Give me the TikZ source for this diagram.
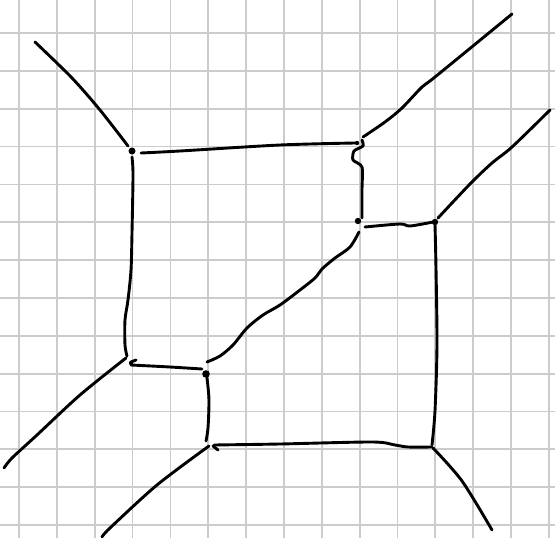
\documentclass[tikz,border=0pt]{standalone}
\begin{document}
\begin{tikzpicture}[x=1pt,y=-1pt,
  gridline/.style={draw=black!20,line width=1.8pt},
  ink/.style={draw=black,line width=2.9pt,line cap=round,line join=round},
  inkdot/.style={fill=black}]
\useasboundingbox (0,0) rectangle (555,538);
\fill[white] (0,0) rectangle (555,538);
% grid
\foreach \k in {0,...,14} {
  \draw[gridline] ({19+37.85*\k},0) -- ({19+37.85*\k},538);
}
\foreach \k in {0,...,13} {
  \draw[gridline] (0,{33+37.85*\k}) -- (555,{33+37.85*\k});
}
% junctions
\coordinate (A) at (132,151);
\coordinate (B) at (357,143);
\coordinate (C) at (358,221);
\coordinate (D) at (435,222);
\coordinate (E) at (127,357);
\coordinate (F) at (206,374);
\coordinate (G) at (208,447);
\coordinate (H) at (432,447);
% tails
\draw[ink] plot[smooth,tension=0.5] coordinates {(35,42) (72,78) (100,110) (128,146)};
\draw[ink] plot[smooth,tension=0.5] coordinates {(363,137) (385,122) (402,108) (422,87) (435,77) (512,14)};
\draw[ink] plot[smooth,tension=0.5] coordinates {(438,218) (470,184) (492,163) (512,147) (550,110)};
\draw[ink] plot[smooth,tension=0.5] coordinates {(126,358) (80,395) (37,435) (12,458) (4,468)};
\draw[ink] plot[smooth,tension=0.5] coordinates {(209,446) (157,485) (110,528) (102,537)};
\draw[ink] plot[smooth,tension=0.5] coordinates {(433,448) (462,481) (492,530)};
% top-left quad
\draw[ink] plot[smooth,tension=0.5] coordinates {(141,153) (180,151) (280,145) (355,143)};
\draw[ink] plot[smooth,tension=0.5] coordinates {(132,157) (133,175) (132,233) (131,270) (128,300) (125,320) (125,345) (127,356)};
\draw[ink] plot[smooth,tension=0.4] coordinates {(362,140) (363,146) (354,151) (353,160) (362,167) (362,190) (362,218)};
\draw[ink] plot[smooth,tension=0.5] coordinates {(131,365) (170,367) (202,369)};
\draw[ink] (131,362) -- (136,360);
% diagonal
\draw[ink] plot[smooth,tension=0.5] coordinates {(359,232) (350,247) (335,258) (322,269) (315,278) (300,290) (280,305) (263,315) (247,328) (233,345) (220,356) (207,362)};
% bottom-right quad
\draw[ink] plot[smooth,tension=0.5] coordinates {(365,227) (400,224) (410,226) (433,222)};
\draw[ink] plot[smooth,tension=0.5] coordinates {(435,224) (436,268) (437,345) (435,411) (432,445)};
\draw[ink] plot[smooth,tension=0.5] coordinates {(207,378) (209,400) (208,428) (206,441)};
\draw[ink] plot[smooth,tension=0.5] coordinates {(214,445) (280,444) (372,442) (395,445) (408,447) (432,447)};
\draw[ink] (213,446) -- (218,450);
% dots
\fill[inkdot] (A) circle (3.5);
\fill[inkdot] (B) circle (2.2);
\fill[inkdot] (C) circle (3.2);
\fill[inkdot] (D) circle (3.2);
\fill[inkdot] (F) circle (3.8);
\fill[inkdot] (E) ++(4,6) circle (2.2);
\end{tikzpicture}
\end{document}
